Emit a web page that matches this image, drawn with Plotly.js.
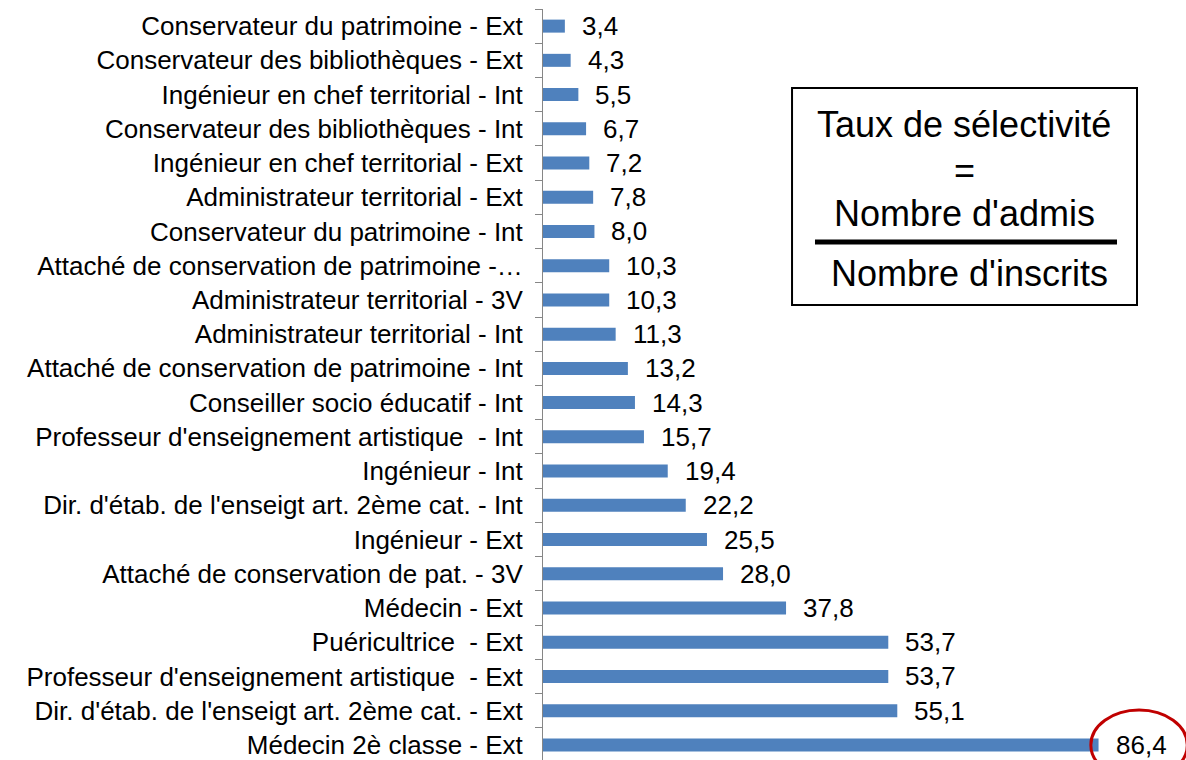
<!DOCTYPE html>
<html>
<head>
<meta charset="utf-8">
<script src="https://cdn.plot.ly/plotly-3.0.1.min.js"></script>
<style>
  html, body { margin: 0; padding: 0; background: #fff; overflow: hidden; }
  #chart { width: 1186px; height: 762px; }
</style>
</head>
<body>
<div id="chart"></div>
<script>
// Concours - taux de sélectivité (admis / inscrits), du haut vers le bas
const concours = [
    "Conservateur du patrimoine - Ext",
    "Conservateur des bibliothèques - Ext",
    "Ingénieur en chef territorial - Int",
    "Conservateur des bibliothèques - Int",
    "Ingénieur en chef territorial - Ext",
    "Administrateur territorial - Ext",
    "Conservateur du patrimoine - Int",
    "Attaché de conservation de patrimoine -…",
    "Administrateur territorial - 3V",
    "Administrateur territorial - Int",
    "Attaché de conservation de patrimoine - Int",
    "Conseiller socio éducatif - Int",
    "Professeur d'enseignement artistique  - Int",
    "Ingénieur - Int",
    "Dir. d'étab. de l'enseigt art. 2ème cat. - Int",
    "Ingénieur - Ext",
    "Attaché de conservation de pat. - 3V",
    "Médecin - Ext",
    "Puéricultrice  - Ext",
    "Professeur d'enseignement artistique  - Ext",
    "Dir. d'étab. de l'enseigt art. 2ème cat. - Ext",
    "Médecin 2è classe - Ext"
];
const taux = [3.4, 4.3, 5.5, 6.7, 7.2, 7.8, 8.0, 10.3, 10.3, 11.3, 13.2, 14.3, 15.7, 19.4, 22.2, 25.5, 28.0, 37.8, 53.7, 53.7, 55.1, 86.4];

const formuleLignes = ["Taux de sélectivité", "=", "Nombre d'admis", "Nombre d'inscrits"];
const formuleY = [0.847, 0.786, 0.729, 0.649];

const fontFamily = '"Liberation Sans", Arial, sans-serif';

const trace = {
    type: 'bar',
    orientation: 'h',
    x: taux,
    y: concours,
    marker: {color: '#4f81bd'},
    hoverinfo: 'none'
};

// étiquettes de valeur (virgule décimale)
const annotations = taux.map((v, i) => ({
    x: v,
    y: concours[i],
    xref: 'x',
    yref: 'y',
    text: v.toFixed(1).replace('.', ','),
    showarrow: false,
    xanchor: 'left',
    yanchor: 'middle',
    xshift: 15,
    font: {family: fontFamily, size: 26, color: '#000'}
}));

// encadré de la formule
formuleLignes.forEach((t, i) => {
    annotations.push({
        x: i === 3 ? 0.663 : 0.6555,
        y: formuleY[i],
        xref: 'paper',
        yref: 'paper',
        text: t,
        showarrow: false,
        xanchor: 'center',
        yanchor: 'middle',
        font: {family: fontFamily, size: 36, color: '#000'}
    });
});

const dernier = concours.length - 1;

const layout = {
    width: 1186,
    height: 762,
    margin: {l: 543, r: 0, t: 9, b: 0},
    paper_bgcolor: '#fff',
    plot_bgcolor: '#fff',
    showlegend: false,
    bargap: 0.62,
    xaxis: {
        range: [0, 100],
        visible: false,
        showgrid: false,
        zeroline: false,
        fixedrange: true
    },
    yaxis: {
        type: 'category',
        range: [dernier + 0.5, -0.5],
        showline: true,
        linecolor: '#868686',
        linewidth: 1,
        ticks: 'outside',
        tickson: 'boundaries',
        ticklen: 7,
        tickcolor: '#868686',
        ticklabelstandoff: 14,
        showgrid: false,
        tickfont: {family: fontFamily, size: 26, color: '#000'},
        fixedrange: true
    },
    annotations: annotations,
    shapes: [
        {
            type: 'rect', xref: 'paper', yref: 'paper',
            x0: 0.3873, x1: 0.9238, y0: 0.6069, y1: 0.8951,
            line: {color: '#000', width: 2}, fillcolor: 'rgba(0,0,0,0)'
        },
        {
            type: 'line', xref: 'paper', yref: 'paper',
            x0: 0.423, x1: 0.8927, y0: 0.6906, y1: 0.6906,
            line: {color: '#000', width: 5}
        },
        {
            // ellipse rouge autour de la plus forte valeur
            type: 'circle', xref: 'x', yref: 'y',
            x0: 85.2, x1: 100.2, y0: dernier - 1.02, y1: dernier + 1.02,
            line: {color: '#c00000', width: 3}, fillcolor: 'rgba(0,0,0,0)'
        }
    ]
};

Plotly.newPlot('chart', [trace], layout, {displayModeBar: false, staticPlot: true});
</script>
</body>
</html>
